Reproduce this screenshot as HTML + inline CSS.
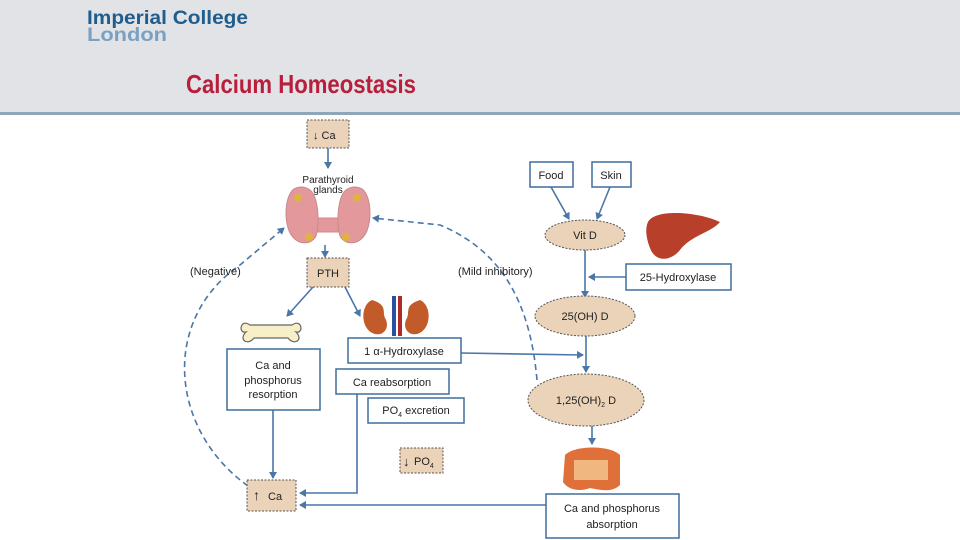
<!DOCTYPE html>
<html><head><meta charset="utf-8"><style>
html,body{margin:0;padding:0;width:960px;height:540px;overflow:hidden;background:#fff}
svg{display:block}
text{font-family:"Liberation Sans",sans-serif;fill:#222}
</style></head><body>
<svg width="960" height="540" viewBox="0 0 960 540">
<defs>
<marker id="a" markerWidth="8" markerHeight="8" refX="6" refY="4" orient="auto" markerUnits="userSpaceOnUse"><path d="M0,0 L7,4 L0,8 z" fill="#4a76a8"/></marker>
</defs>
<rect x="0" y="0" width="960" height="113" fill="#e1e3e7"/>
<rect x="0" y="112" width="960" height="3" fill="#8fa5b8"/>
<text x="87" y="24" font-size="19" font-weight="bold" style="fill:#1f5d8c" textLength="161" lengthAdjust="spacingAndGlyphs">Imperial College</text>
<text x="87" y="41" font-size="19" font-weight="bold" style="fill:#7ba1c2" textLength="80" lengthAdjust="spacingAndGlyphs">London</text>
<text x="186" y="93" font-size="26" font-weight="bold" style="fill:#b81f3c" textLength="230" lengthAdjust="spacingAndGlyphs">Calcium Homeostasis</text>

<g stroke="#4a76a8" stroke-width="1.6" fill="none">
<line x1="328" y1="148" x2="328" y2="168" marker-end="url(#a)"/>
<line x1="325" y1="245" x2="325" y2="257" marker-end="url(#a)"/>
<line x1="313" y1="287" x2="287" y2="316" marker-end="url(#a)"/>
<line x1="345" y1="287" x2="360" y2="316" marker-end="url(#a)"/>
<line x1="273" y1="410" x2="273" y2="478" marker-end="url(#a)"/>
<polyline points="357,394 357,493 300,493" marker-end="url(#a)"/>
<polyline points="547,510 547,505 300,505" marker-end="url(#a)"/>
<line x1="461" y1="353" x2="583" y2="355" marker-end="url(#a)"/>
<line x1="551" y1="187" x2="569" y2="219" marker-end="url(#a)"/>
<line x1="610" y1="187" x2="597" y2="219" marker-end="url(#a)"/>
<line x1="585" y1="250" x2="585" y2="297" marker-end="url(#a)"/>
<line x1="626" y1="277" x2="589" y2="277" marker-end="url(#a)"/>
<line x1="586" y1="335" x2="586" y2="372" marker-end="url(#a)"/>
<line x1="592" y1="426" x2="592" y2="444" marker-end="url(#a)"/>
</g>
<g stroke="#4a76a8" stroke-width="1.6" fill="none" stroke-dasharray="6,4">
<path d="M248,486 C170,430 160,320 240,265 L284,228" marker-end="url(#a)"/>
<path d="M537,380 C530,300 500,250 440,225 L373,218" marker-end="url(#a)"/>
</g>

<g fill="#ead3b8" stroke="#555" stroke-dasharray="2,1.5" stroke-width="1">
<rect x="307" y="120" width="42" height="28"/>
<rect x="307" y="258" width="42" height="29"/>
<rect x="400" y="448" width="43" height="25"/>
<rect x="247" y="480" width="49" height="31"/>
<ellipse cx="585" cy="235" rx="40" ry="15"/>
<ellipse cx="585" cy="316" rx="50" ry="20"/>
<ellipse cx="586" cy="400" rx="58" ry="26"/>
</g>
<g fill="#fff" stroke="#3f6e9e" stroke-width="1.5">
<rect x="227" y="349" width="93" height="61"/>
<rect x="348" y="338" width="113" height="25"/>
<rect x="336" y="369" width="113" height="25"/>
<rect x="368" y="398" width="96" height="25"/>
<rect x="530" y="162" width="43" height="25"/>
<rect x="592" y="162" width="39" height="25"/>
<rect x="626" y="264" width="105" height="26"/>
<rect x="546" y="494" width="133" height="44"/>
</g>

<!-- thyroid -->
<g fill="#e3999b" stroke="#c98a8c" stroke-width="1">
<path d="M312,218 L345,218 L342,232 L315,232 Z"/>
<path d="M296,188 C284,192 283,225 292,236 C300,246 312,244 316,236 C320,222 318,200 312,192 C308,187 301,186 296,188 Z"/>
<path d="M360,188 C372,192 373,225 364,236 C356,246 344,244 340,236 C336,222 338,200 344,192 C348,187 355,186 360,188 Z"/>
</g>
<g fill="#e0b240">
<circle cx="298" cy="198" r="4"/><circle cx="357" cy="198" r="4"/>
<circle cx="309" cy="237" r="4"/><circle cx="346" cy="237" r="4"/>
</g>
<text x="328" y="183" font-size="10" text-anchor="middle">Parathyroid</text>
<text x="328" y="193" font-size="10" text-anchor="middle">glands</text>

<path d="M250,325 C240,318 238,334 246,332 C238,340 248,346 254,338 L288,338 C294,346 304,340 296,332 C304,334 302,318 292,325 L254,325 Z" fill="#f6efc8" stroke="#666" stroke-width="1.2"/>
<path d="M372,300 C360,305 360,330 375,334 C385,336 390,326 385,318 C382,312 388,305 372,300 Z" fill="#c25a2a"/>
<path d="M420,300 C432,305 432,330 417,334 C407,336 402,326 407,318 C410,312 404,305 420,300 Z" fill="#c25a2a"/>
<rect x="392" y="296" width="4" height="40" fill="#2a4fa0"/><rect x="398" y="296" width="4" height="40" fill="#b02a2a"/>
<path d="M648,222 C655,208 700,212 720,222 C712,232 690,236 680,250 C670,262 655,262 650,248 C646,238 645,228 648,222 Z" fill="#b8402a"/>
<path d="M565,455 C575,445 610,445 620,455 L620,485 C612,493 600,490 590,488 C580,492 568,490 563,482 Z" fill="#e0703a"/>
<path d="M574,460 L608,460 L608,480 L574,480 Z" fill="#f0b880"/>

<g font-size="11">
<text x="313" y="139">↓ Ca</text>
<text x="328" y="277" text-anchor="middle">PTH</text>
<text x="190" y="275">(Negative)</text>
<text x="458" y="275">(Mild inhibitory)</text>
<text x="273" y="369" text-anchor="middle">Ca and</text>
<text x="273" y="384" text-anchor="middle">phosphorus</text>
<text x="273" y="398" text-anchor="middle">resorption</text>
<text x="404" y="355" text-anchor="middle">1 α-Hydroxylase</text>
<text x="392" y="386" text-anchor="middle">Ca reabsorption</text>
<text x="416" y="414" text-anchor="middle">PO<tspan font-size="7" dy="3">4</tspan><tspan dy="-3"> excretion</tspan></text>
<text x="403" y="466" font-size="13">↓</text><text x="414" y="465">PO<tspan font-size="7" dy="3">4</tspan></text>
<text x="253" y="500" font-size="14">↑</text><text x="268" y="500">Ca</text>
<text x="551" y="179" text-anchor="middle">Food</text>
<text x="611" y="179" text-anchor="middle">Skin</text>
<text x="585" y="239" text-anchor="middle">Vit D</text>
<text x="678" y="281" text-anchor="middle">25-Hydroxylase</text>
<text x="585" y="320" text-anchor="middle">25(OH) D</text>
<text x="586" y="404" text-anchor="middle">1,25(OH)<tspan font-size="7" dy="3">2</tspan><tspan dy="-3"> D</tspan></text>
<text x="612" y="512" text-anchor="middle">Ca and phosphorus</text>
<text x="612" y="528" text-anchor="middle">absorption</text>
</g>
</svg>
</body></html>
